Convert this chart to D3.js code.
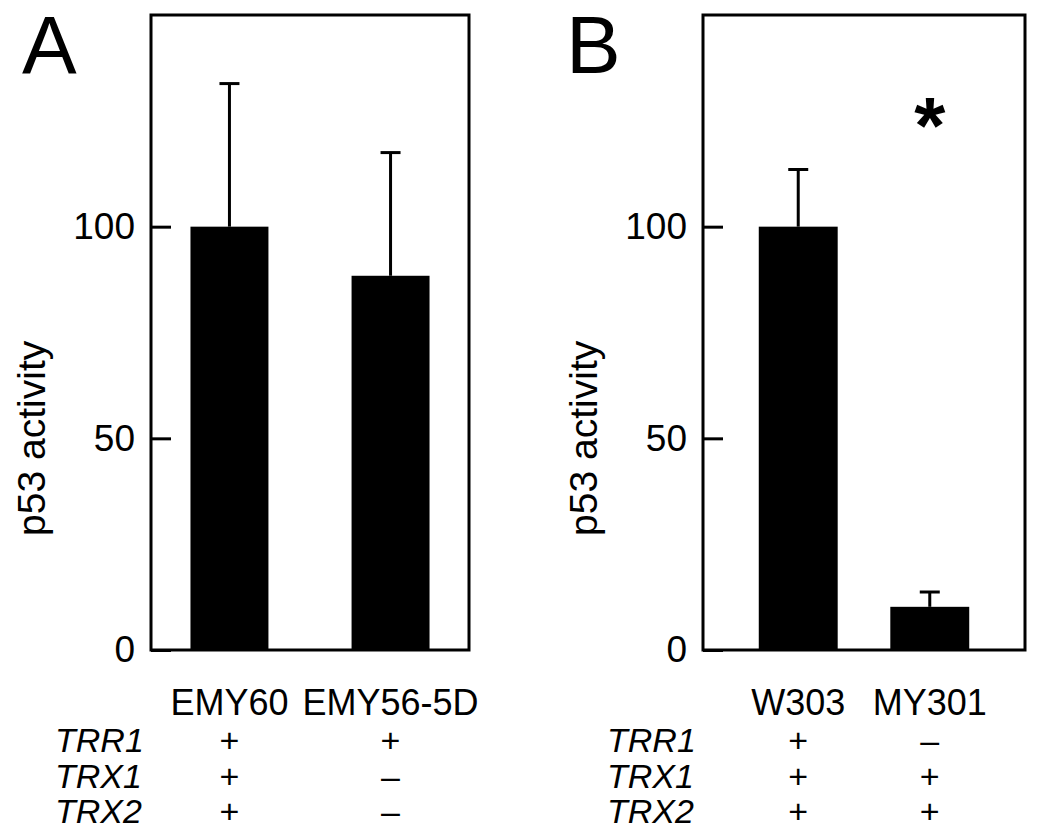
<!DOCTYPE html>
<html>
<head>
<meta charset="utf-8">
<script src="https://cdn.jsdelivr.net/npm/d3@7"></script>
<style>
  html, body { margin: 0; padding: 0; background: #fff; }
  svg text { font-family: "Liberation Sans", Arial, Helvetica, sans-serif; fill: #000; }
</style>
</head>
<body>
<div id="chart"></div>
<script>
// data
const strainsA = ['EMY60', 'EMY56-5D'];
const activityA = [100, 88.4];
const errorA = [33.8, 29.1];
const genotypeA = [['+', '+', '+'], ['+', '\u2013', '\u2013']];

const strainsB = ['W303', 'MY301'];
const activityB = [100, 10.2];
const errorB = [13.5, 3.5];
const genotypeB = [['+', '+', '+'], ['\u2013', '+', '+']];
const significantB = [false, true];

const genes = ['TRR1', 'TRX1', 'TRX2'];
const yTicks = [0, 50, 100];
const yMax = 150;
const yLabel = 'p53 activity';

const W = 1050, H = 836;
const plotTop = 15, plotBottom = 650;

const svg = d3.select('#chart').append('svg')
  .attr('width', W).attr('height', H);

const y = d3.scaleLinear().domain([0, yMax]).range([plotBottom, plotTop]);

function drawPanel(p) {
  const g = svg.append('g');
  const x = d3.scaleBand()
    .domain(p.strains)
    .range([p.left, p.right])
    .paddingInner(p.padIn)
    .paddingOuter(p.padOut);

  // panel letter
  g.append('text')
    .attr('x', p.letterX).attr('y', 73)
    .attr('font-size', 82)
    .text(p.letter);

  // bars
  g.selectAll('.bar')
    .data(p.strains)
    .enter().append('rect')
    .attr('x', d => x(d))
    .attr('y', (d, i) => y(p.values[i]))
    .attr('width', x.bandwidth())
    .attr('height', (d, i) => y(0) - y(p.values[i]))
    .attr('fill', '#000');

  // error bars (upper only)
  const cx = d => x(d) + x.bandwidth() / 2;
  g.selectAll('.err')
    .data(p.strains)
    .enter().append('line')
    .attr('x1', cx).attr('x2', cx)
    .attr('y1', (d, i) => y(p.values[i]))
    .attr('y2', (d, i) => y(p.values[i] + p.errors[i]))
    .attr('stroke', '#000').attr('stroke-width', 3);
  g.selectAll('.cap')
    .data(p.strains)
    .enter().append('line')
    .attr('x1', d => cx(d) - 10).attr('x2', d => cx(d) + 10)
    .attr('y1', (d, i) => y(p.values[i] + p.errors[i]))
    .attr('y2', (d, i) => y(p.values[i] + p.errors[i]))
    .attr('stroke', '#000').attr('stroke-width', 3);

  // frame
  g.append('rect')
    .attr('x', p.left).attr('y', plotTop)
    .attr('width', p.right - p.left).attr('height', plotBottom - plotTop)
    .attr('fill', 'none').attr('stroke', '#000').attr('stroke-width', 3);

  // y axis, ticks pointing inward
  const axis = g.append('g')
    .attr('transform', `translate(${p.left},0)`)
    .call(d3.axisLeft(y).tickValues(yTicks).tickSizeInner(-20).tickSizeOuter(0).tickPadding(16));
  axis.select('.domain').remove();
  axis.selectAll('.tick line').attr('stroke', '#000').attr('stroke-width', 3);
  axis.selectAll('.tick text')
    .attr('font-size', 37)
    .attr('font-family', '"Liberation Sans", Arial, sans-serif')
    .attr('fill', '#000');

  // y label
  g.append('text')
    .attr('transform', `translate(${p.left - 106},${y(50)}) rotate(-90)`)
    .attr('text-anchor', 'middle')
    .attr('font-size', 39)
    .text(yLabel);

  // significance marker
  g.selectAll('.sig')
    .data(p.strains.filter((d, i) => p.sig && p.sig[i]))
    .enter().append('text')
    .attr('x', cx)
    .attr('y', y(117.5))
    .attr('text-anchor', 'middle')
    .attr('font-size', 80)
    .attr('font-weight', 'bold')
    .text('*');

  // strain names
  g.selectAll('.strain')
    .data(p.strains)
    .enter().append('text')
    .attr('x', cx)
    .attr('y', 715)
    .attr('text-anchor', 'middle')
    .attr('font-size', 36)
    .text(d => d);

  // genotype table
  const rowY = d3.scalePoint().domain(genes).range([752, 823]);
  g.selectAll('.gene')
    .data(genes)
    .enter().append('text')
    .attr('x', p.left - 96)
    .attr('y', d => rowY(d))
    .attr('font-size', 34)
    .attr('font-style', 'italic')
    .text(d => d);

  p.strains.forEach((s, i) => {
    g.selectAll(null)
      .data(genes)
      .enter().append('text')
      .attr('x', cx(s))
      .attr('y', d => rowY(d))
      .attr('text-anchor', 'middle')
      .attr('font-size', 34)
      .text((d, j) => p.genotype[i][j]);
  });
}

drawPanel({
  letter: 'A', letterX: 22,
  strains: strainsA, values: activityA, errors: errorA, genotype: genotypeA,
  left: 151, right: 469, padIn: 0.516, padOut: 0.245
});

drawPanel({
  letter: 'B', letterX: 566,
  strains: strainsB, values: activityB, errors: errorB, genotype: genotypeB, sig: significantB,
  left: 703, right: 1025, padIn: 0.4, padOut: 0.424
});
</script>
</body>
</html>
